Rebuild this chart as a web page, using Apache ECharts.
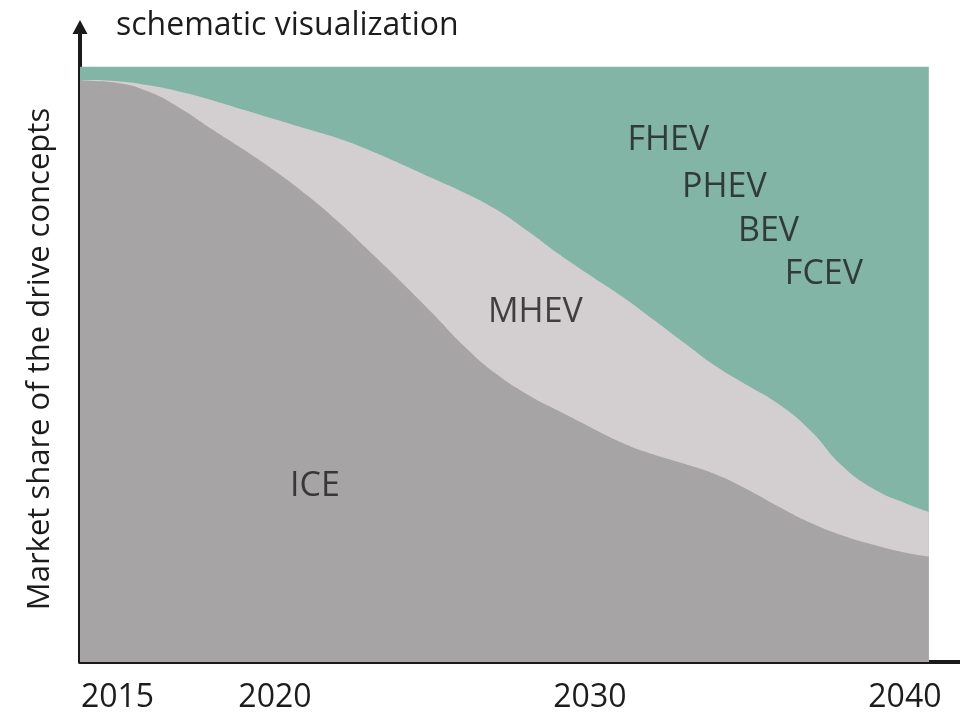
<!DOCTYPE html>
<html>
<head>
<meta charset="utf-8">
<script src="https://cdn.jsdelivr.net/npm/echarts@6/dist/echarts.min.js"></script>
<style>html,body{margin:0;padding:0;background:#fff}#c{width:960px;height:714px}</style>
</head>
<body>
<div id="c"></div>
<script>
// x positions (years, schematic)
const years = [2013.81, 2014, 2015, 2016, 2017, 2018, 2019, 2020, 2021, 2022, 2023, 2024, 2025, 2026, 2027,
  2028, 2029, 2030, 2031, 2032, 2033, 2034, 2035, 2036, 2037, 2038, 2039, 2040, 2040.76];
// market shares (%), stacked bottom to top
const ice  = [97.8, 97.7, 97.3, 95.8, 93.0, 89.5, 86.1, 82.5, 78.5, 74.0, 69.0, 63.9, 58.6, 53.1, 48.5,
  45.0, 42.2, 39.5, 36.9, 34.9, 33.3, 31.5, 29.0, 26.1, 23.4, 21.3, 19.7, 18.4, 17.7];
const mhev = [0.0, 0.1, 0.3, 1.1, 2.8, 4.9, 6.7, 8.7, 11.1, 14.0, 17.0, 19.8, 22.7, 25.8, 27.6,
  27.5, 26.4, 25.5, 24.6, 22.7, 20.3, 18.2, 17.5, 17.2, 15.5, 11.7, 9.4, 8.3, 7.5];
const xev  = [2.2, 2.2, 2.4, 3.1, 4.2, 5.6, 7.2, 8.8, 10.4, 12.0, 14.0, 16.3, 18.7, 21.1, 23.9,
  27.5, 31.4, 35.0, 38.5, 42.4, 46.4, 50.3, 53.5, 56.7, 61.1, 67.0, 70.9, 73.3, 74.8];
const tickYears = [2015, 2020, 2030, 2040];
// area labels: [year, share, text]
const areaLabels = [
  [2032.49, 87.6, 'FHEV'],
  [2034.27, 79.8, 'PHEV'],
  [2035.67, 72.4, 'BEV'],
  [2037.43, 65.2, 'FCEV'],
  [2028.27, 58.7, 'MHEV'],
  [2021.27, 29.6, 'ICE']
];
const yTitle = 'Market share of the drive concepts';
const topNote = 'schematic visualization';

const FONT = "'Open Sans', 'Noto Sans', sans-serif";
const TXT = '#1c1c1c';

// cumulative tops (manual stacking)
const cumIce = ice.slice();
const cumMhev = ice.map((v, i) => v + mhev[i]);
const cumAll = cumMhev.map((v, i) => v + xev[i]);

function pairs(vals) { return years.map((y, i) => [y, +vals[i].toFixed(3)]); }
function areaSeries(name, vals, color, z) {
  return {
    name, type: 'line', data: pairs(vals), smooth: true,
    symbol: 'none', lineStyle: { width: 0 }, areaStyle: { color: color, opacity: 1, origin: 'start' },
    itemStyle: { color: color }, z: z
  };
}

const chart = echarts.init(document.getElementById('c'), null, { renderer: 'canvas' });
chart.setOption({
  animation: false,
  backgroundColor: '#ffffff',
  grid: { left: 80, right: 0, top: 27, bottom: 51 },
  xAxis: {
    type: 'value', min: 2013.81, max: 2041.75,
    axisLine: { show: true, lineStyle: { color: '#1a1a1a', width: 4 } },
    axisTick: { show: false },
    splitLine: { show: false },
    axisLabel: { customValues: tickYears, color: TXT, fontFamily: FONT, fontSize: 32, margin: 20,
      formatter: v => String(Math.round(v)) }
  },
  yAxis: {
    type: 'value', min: 0, max: 106.7,
    axisLine: { show: true, lineStyle: { color: '#1a1a1a', width: 4 }, symbol: ['none', 'triangle'], symbolSize: [15, 14] },
    axisTick: { show: false },
    axisLabel: { show: false },
    splitLine: { show: false }
  },
  graphic: [
    { type: 'text', x: 116, y: 26, style: { text: topNote, font: '32px ' + FONT, fill: TXT, textAlign: 'left', textVerticalAlign: 'middle' } },
    { type: 'text', x: 40, y: 359, rotation: Math.PI / 2, style: { text: yTitle, font: '31px ' + FONT, fill: TXT, textAlign: 'center', textVerticalAlign: 'middle' } }
  ],
  series: [
    areaSeries('FHEV/PHEV/BEV/FCEV', cumAll, '#82b5a5', 1),
    areaSeries('MHEV', cumMhev, '#d3cecf', 2),
    areaSeries('ICE', cumIce, '#a6a4a5', 3),
    {
      type: 'scatter', data: areaLabels.map(d => ({ value: [d[0], d[1]], name: d[2] })),
      symbolSize: 1, itemStyle: { color: 'rgba(0,0,0,0)' }, z: 5, silent: true,
      label: { show: true, position: 'inside', formatter: p => p.name, color: TXT, fontFamily: FONT, fontSize: 34 }
    }
  ]
});
</script>
</body>
</html>
